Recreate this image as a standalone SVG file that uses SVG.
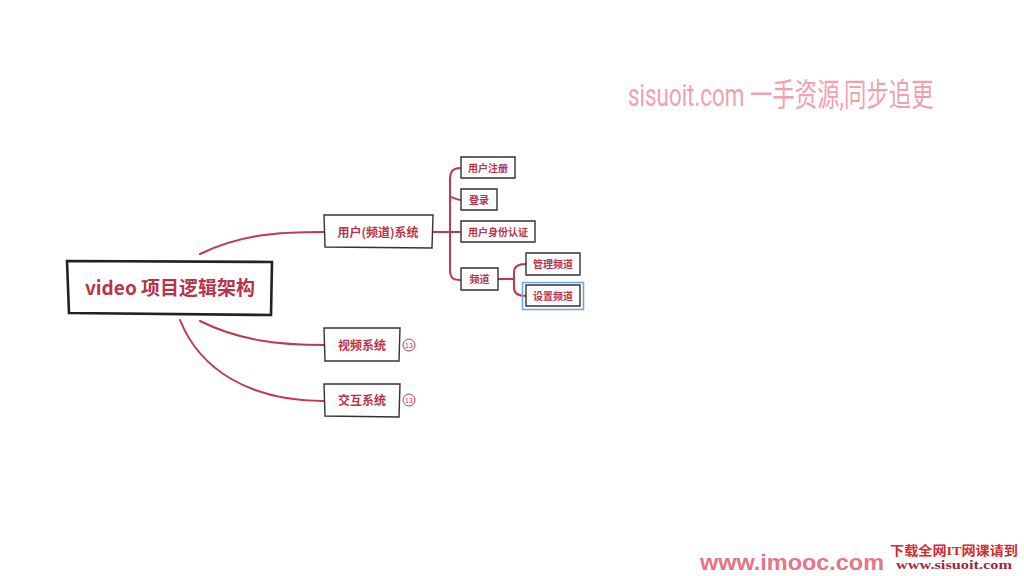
<svg xmlns="http://www.w3.org/2000/svg" width="1024" height="576" viewBox="0 0 1024 576">
<style>
.box{fill:#fff;stroke:#333;stroke-width:1.4;stroke-linecap:round}
.root{fill:#fff;stroke:#222;stroke-width:2.6;stroke-linecap:round}
.lbl{font-family:"Noto Sans CJK SC","Noto Sans",sans-serif;font-weight:bold;font-size:10px;fill:#b8334a;text-anchor:middle}
.lbl2{font-family:"Noto Sans CJK SC","Noto Sans",sans-serif;font-weight:bold;font-size:12px;fill:#b8334a;text-anchor:middle}
.con{fill:none;stroke:#c0394f;stroke-width:2;stroke-linecap:round}
.badge{fill:#fff;stroke:#c0394f;stroke-width:1}
.bt{font-family:"Liberation Sans",sans-serif;font-size:7px;fill:#c0394f;text-anchor:middle}
</style>
<rect width="1024" height="576" fill="#fff"/>
<g id="connectors">
<path class="con" d="M200,254 C240,234 280,232 324,232"/>
<path class="con" d="M200,321 C240,341 280,345 324,345"/>
<path class="con" d="M180,320 C200,370 250,401 324,401"/>
<path class="con" d="M433,232 L450,232"/>
<path class="con" d="M461,168 C452,168 450,172 450,180 L450,270 C450,278 453,280 461,280"/>
<path class="con" d="M450,200 C450,194 455,200 461,200"/>
<path class="con" d="M450,232 L461,232"/>
<path class="con" d="M498,279 L514,279"/>
<path class="con" d="M526,264 C518,264 514,267 514,272 L514,288 C514,293 518,296 526,296"/>
</g>
<g id="root">
<path class="root" d="M67,261 L272,262 L271,315 L69,313 Z"/>
<text x="170" y="295" style="font-family:'Noto Sans CJK SC','Noto Sans',sans-serif;font-weight:bold;font-size:19px;fill:#b8334a;text-anchor:middle">video 项目逻辑架构</text>
</g>
<g id="user">
<path class="box" d="M324,215 L433,215 L432,248 L325,247 Z"/>
<text class="lbl2" x="378" y="237">用户(频道)系统</text>
</g>
<g id="video">
<path class="box" d="M324,328 L400,328 L399,361 L325,361 Z"/>
<text class="lbl2" x="362" y="350">视频系统</text>
<circle class="badge" cx="409" cy="345" r="6"/>
<text class="bt" x="409" y="347.5">13</text>
</g>
<g id="interact">
<path class="box" d="M324,384 L400,384 L399,417 L325,416 Z"/>
<text class="lbl2" x="362" y="405">交互系统</text>
<circle class="badge" cx="409" cy="400" r="6"/>
<text class="bt" x="409" y="402.5">13</text>
</g>
<g id="reg">
<path class="box" d="M461,157 L515,157 L515,178 L461,178 Z"/>
<text class="lbl" x="488" y="171.5">用户注册</text>
</g>
<g id="login">
<path class="box" d="M461,189 L497,189 L497,210 L461,210 Z"/>
<text class="lbl" x="479" y="203.5">登录</text>
</g>
<g id="auth">
<path class="box" d="M461,221 L535,221 L535,242 L461,242 Z"/>
<text class="lbl" x="498" y="235.5">用户身份认证</text>
</g>
<g id="channel">
<path class="box" d="M461,268 L498,268 L498,290 L461,290 Z"/>
<text class="lbl" x="479.5" y="283">频道</text>
</g>
<g id="manage">
<path class="box" d="M526,253 L580,253 L580,275 L526,275 Z"/>
<text class="lbl" x="553" y="268">管理频道</text>
</g>
<g id="setting">
<rect x="522.5" y="282.5" width="61" height="27" fill="none" stroke="#6fa3dc" stroke-width="1.5"/>
<path class="box" d="M526,285 L580,285 L580,306 L526,306 Z"/>
<text class="lbl" x="553" y="299.5">设置频道</text>
</g>
<g id="watermarks">
<text transform="translate(628,106) scale(0.7,1)" x="0" y="0" style="font-family:'Roboto','Noto Sans CJK SC',sans-serif;font-size:32px;fill:#f3a0ad">sisuoit.com 一手资源,同步追更</text>
<text x="700" y="570" textLength="184" lengthAdjust="spacingAndGlyphs" style="font-family:'Liberation Sans',sans-serif;font-weight:bold;font-size:22px;fill:#e57587">www.imooc.com</text>
<text x="890" y="555" textLength="128" lengthAdjust="spacingAndGlyphs" style="font-family:'Liberation Serif','Noto Sans CJK SC',serif;font-weight:bold;font-size:13px;fill:#d42a30">下载全网IT网课请到</text>
<text x="896" y="569" textLength="116" lengthAdjust="spacingAndGlyphs" style="font-family:'Liberation Serif',serif;font-weight:bold;font-size:12px;fill:#a0283a">www.sisuoit.com</text>
</g>
</svg>
